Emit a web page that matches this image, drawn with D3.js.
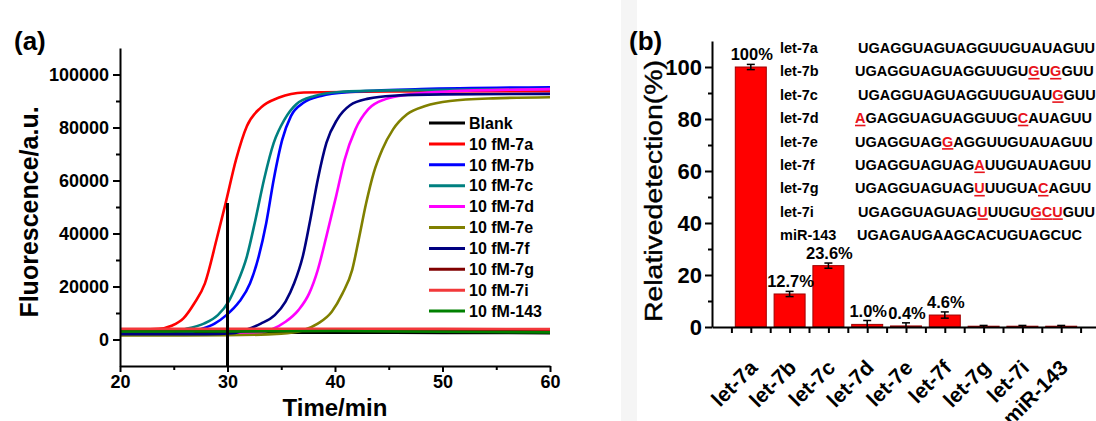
<!DOCTYPE html>
<html>
<head>
<meta charset="utf-8">
<script src="https://cdn.jsdelivr.net/npm/d3@7/dist/d3.min.js"></script>
<style>
body { margin: 0; background: #fff; }
svg text { font-family: "Liberation Sans", Arial, sans-serif; }
</style>
</head>
<body>
<svg id="fig" width="1096" height="421"></svg>
<script>
// ---- panel (a) data: fluorescence curves, [time(min), fluorescence(a.u.)]
var seriesNames = ["Blank", "10 fM-7a", "10 fM-7b", "10 fM-7c", "10 fM-7d", "10 fM-7e", "10 fM-7f", "10 fM-7g", "10 fM-7i", "10 fM-143"];
var seriesColors = ["#000000", "#ff0000", "#0000ff", "#008080", "#ff00ff", "#808000", "#000080", "#800000", "#f2383a", "#008000"];

var curveBlank = [[20,2400],[30,2500],[40,2600],[50,2500],[60,2400]];
var curve7a = [[20,3800],[22,3800],[23.6,4000],[24.8,5200],[25.9,8000],[26.9,13600],[27.9,21200],[29.0,38000],[29.8,51000],[30.8,68000],[31.8,80500],[33.1,87500],[34.8,91300],[37.1,93200],[45,93600],[60,93700]];
var curve7b = [[20,2000],[24,2000],[26,2300],[27.4,3800],[28.8,6000],[29.9,9200],[31.1,14300],[32.1,21200],[32.9,31300],[33.6,43900],[34.3,60400],[35.1,75500],[35.9,84300],[37.1,89400],[38.7,91900],[41.4,93400],[48,94500],[60,95200]];
var curve7c = [[20,3000],[24,3000],[26.1,4000],[27.8,6000],[29.1,9200],[30.1,14300],[30.9,21200],[31.8,31300],[32.6,45200],[33.4,60400],[34.3,74200],[35.3,83000],[36.4,88800],[38.1,91900],[40.4,93400],[45,94000],[60,94500]];
var curve7d = [[20,2000],[30,2000],[32.5,2300],[34.1,3800],[35.4,6700],[36.6,11100],[37.6,17400],[38.4,26300],[39.2,38900],[40.1,54000],[40.9,67900],[41.9,79300],[43.1,86900],[44.7,90700],[47.0,92500],[50.4,93600],[60,94500]];
var curve7e = [[20,1500],[30,1600],[35,2200],[36.9,3300],[38.4,6000],[39.7,10500],[40.7,17400],[41.6,26300],[42.2,37600],[42.9,51500],[43.6,62900],[44.4,71700],[45.4,79300],[46.7,85000],[48.4,88100],[50.7,90000],[54.7,91000],[60,91400]];
var curve7f = [[20,2000],[28,2000],[30.5,2400],[31.8,3800],[33.1,6000],[34.4,9200],[35.4,14300],[36.2,21200],[37.0,31300],[37.7,45200],[38.4,60400],[39.2,74200],[40.2,83000],[41.4,88400],[43.1,90900],[45.4,92000],[50,92500],[60,92700]];
var curve7g = [[20,3200],[30,3200],[40,3300],[50,3200],[60,3100]];
var curve7i = [[20,4000],[30,4000],[40,4000],[50,4000],[60,3900]];
var curve143 = [[20,3000],[30,3000],[40,3200],[50,2900],[60,2700]];
var curveData = [curveBlank, curve7a, curve7b, curve7c, curve7d, curve7e, curve7f, curve7g, curve7i, curve143];

var markTime = 30;          // vertical marker
var markTop = 51500;

var xTicksA = [20, 30, 40, 50, 60];
var xMinorA = [25, 35, 45, 55];
var yTicksA = [0, 20000, 40000, 60000, 80000, 100000];
var yMinorA = [10000, 30000, 50000, 70000, 90000];

// ---- panel (b) data: relative detection
var categories = ["let-7a", "let-7b", "let-7c", "let-7d", "let-7e", "let-7f", "let-7g", "let-7i", "miR-143"];
var detection = [100, 12.7, 23.6, 1.0, 0.4, 4.6, 0.3, 0.3, 0.3];
var detectionErr = [1.0, 1.0, 1.0, 1.5, 1.2, 1.2, 0.3, 0.3, 0.3];
var barLabels = ["100%", "12.7%", "23.6%", "1.0%", "0.4%", "4.6%", "", "", ""];
var yTicksB = [0, 20, 40, 60, 80, 100];
var yMinorB = [10, 30, 50, 70, 90];

var seqNames = ["let-7a", "let-7b", "let-7c", "let-7d", "let-7e", "let-7f", "let-7g", "let-7i", "miR-143"];
var seqs = ["UGAGGUAGUAGGUUGUAUAGUU", "UGAGGUAGUAGGUUGUGUGGUU", "UGAGGUAGUAGGUUGUAUGGUU", "AGAGGUAGUAGGUUGCAUAGUU",
            "UGAGGUAGGAGGUUGUAUAGUU", "UGAGGUAGUAGAUUGUAUAGUU", "UGAGGUAGUAGUUUGUACAGUU", "UGAGGUAGUAGUUUGUGCUGUU",
            "UGAGAUGAAGCACUGUAGCUC"];
var mismatches = [[], [16, 18], [18], [0, 15], [8], [11], [11, 17], [11, 16, 17, 18], []];
var seqIndent = [3, 0, 3, 0, 0, 0, 0, 3, 2];

var svg = d3.select("#fig");
var red = "#e8141c";

// ================= panel (a) =================
var xA = d3.scaleLinear().domain([20, 60]).range([120, 550]);
var yA = d3.scaleLinear().domain([-10000, 110000]).range([366, 48]);

var gA = svg.append("g");

var line = d3.line()
    .x(function(d) { return xA(d[0]); })
    .y(function(d) { return yA(d[1]); })
    .curve(d3.curveMonotoneX);

curveData.forEach(function(c, i) {
    gA.append("path")
        .datum(c)
        .attr("d", line)
        .attr("fill", "none")
        .attr("stroke", seriesColors[i])
        .attr("stroke-width", 2.6);
});

gA.append("line")
    .attr("x1", xA(markTime)).attr("x2", xA(markTime))
    .attr("y1", yA(-10000)).attr("y2", yA(markTop))
    .attr("stroke", "#000").attr("stroke-width", 3);

function styleAxis(g, size) {
    g.selectAll("path.domain").attr("stroke", "#000").attr("stroke-width", 2);
    g.selectAll(".tick line").attr("stroke", "#000").attr("stroke-width", 2);
    g.selectAll(".tick text").attr("fill", "#000")
        .style("font-size", size + "px").style("font-weight", "bold")
        .style("font-family", '"Liberation Sans", Arial, sans-serif');
}

var xAxisA = gA.append("g")
    .attr("transform", "translate(0," + yA(-10000) + ")")
    .call(d3.axisBottom(xA).tickValues(xTicksA).tickSize(6).tickSizeOuter(0).tickPadding(3));
styleAxis(xAxisA, 18);
gA.append("g")
    .attr("transform", "translate(0," + yA(-10000) + ")")
    .call(d3.axisBottom(xA).tickValues(xMinorA).tickSize(4).tickFormat(""))
    .call(function(g) { g.select(".domain").remove(); styleAxis(g, 18); });

var yAxisA = gA.append("g")
    .attr("transform", "translate(" + xA(20) + ",0)")
    .call(d3.axisLeft(yA).tickValues(yTicksA).tickSize(7).tickSizeOuter(0).tickPadding(4).tickFormat(d3.format("d")));
styleAxis(yAxisA, 18);
gA.append("g")
    .attr("transform", "translate(" + xA(20) + ",0)")
    .call(d3.axisLeft(yA).tickValues(yMinorA).tickSize(4).tickFormat(""))
    .call(function(g) { g.select(".domain").remove(); styleAxis(g, 18); });

gA.append("text")
    .attr("x", (xA(20) + xA(60)) / 2).attr("y", 416)
    .attr("text-anchor", "middle")
    .style("font-size", "24px").style("font-weight", "bold")
    .text("Time/min");

gA.append("text")
    .attr("transform", "translate(38," + ((yA(-10000) + yA(110000)) / 2 + 5) + ") rotate(-90)")
    .attr("text-anchor", "middle")
    .style("font-size", "25px").style("font-weight", "bold")
    .text("Fluorescence/a.u.");

gA.append("text")
    .attr("x", 14).attr("y", 50)
    .style("font-size", "26px").style("font-weight", "bold")
    .text("(a)");

// legend
var legend = gA.append("g");
seriesNames.forEach(function(name, i) {
    var y = 123 + 20.9 * i;
    legend.append("line")
        .attr("x1", 429).attr("x2", 465).attr("y1", y).attr("y2", y)
        .attr("stroke", seriesColors[i]).attr("stroke-width", 3);
    legend.append("text")
        .attr("x", 469).attr("y", y).attr("dy", "0.36em")
        .style("font-size", "16px").style("font-weight", "bold")
        .text(name);
});

// ================= panel (b) =================
svg.append("rect").attr("x", 621).attr("y", 0).attr("width", 16).attr("height", 421).attr("fill", "#f5f5f5");

var xB = d3.scaleLinear().domain([0, 10]).range([712, 1100]);
var yB = d3.scaleLinear().domain([0, 110]).range([327, 41]);
var barW = 31;

var gB = svg.append("g");

gB.selectAll("rect.bar")
    .data(detection)
    .enter().append("rect")
    .attr("class", "bar")
    .attr("x", function(d, i) { return xB(i + 1) - barW / 2; })
    .attr("y", function(d) { return yB(d); })
    .attr("width", barW)
    .attr("height", function(d) { return yB(0) - yB(d); })
    .attr("fill", "#ff0000")
    .attr("stroke", "#a00000")
    .attr("stroke-width", 1);

// error bars
detection.forEach(function(d, i) {
    var cx = xB(i + 1), lo = yB(Math.max(0, d - detectionErr[i])), hi = yB(d + detectionErr[i]);
    gB.append("line").attr("x1", cx).attr("x2", cx).attr("y1", lo).attr("y2", hi)
        .attr("stroke", "#000").attr("stroke-width", 1.5);
    gB.append("line").attr("x1", cx - 4).attr("x2", cx + 4).attr("y1", hi).attr("y2", hi)
        .attr("stroke", "#000").attr("stroke-width", 1.5);
    if (d - detectionErr[i] > 0) {
        gB.append("line").attr("x1", cx - 4).attr("x2", cx + 4).attr("y1", lo).attr("y2", lo)
            .attr("stroke", "#000").attr("stroke-width", 1.5);
    }
    if (barLabels[i]) {
        gB.append("text")
            .attr("x", cx + 1).attr("y", hi - 4)
            .attr("text-anchor", "middle")
            .style("font-size", "16.5px").style("font-weight", "bold")
            .text(barLabels[i]);
    }
});

var catTicks = d3.range(0.5, 10.01, 0.5);
var xAxisB = gB.append("g")
    .attr("transform", "translate(0," + yB(0) + ")")
    .call(d3.axisBottom(xB).tickValues(catTicks).tickSize(6).tickSizeOuter(0).tickFormat(""));
styleAxis(xAxisB, 17);

categories.forEach(function(c, i) {
    gB.append("text")
        .attr("transform", "translate(" + (xB(i + 1) + 8) + ",369) rotate(-45)")
        .attr("text-anchor", "end")
        .style("font-size", "21px").style("font-weight", "bold")
        .text(c);
});

var yAxisB = gB.append("g")
    .attr("transform", "translate(" + xB(0) + ",0)")
    .call(d3.axisLeft(yB).tickValues(yTicksB).tickSize(7).tickSizeOuter(0).tickPadding(3));
styleAxis(yAxisB, 22);
gB.append("g")
    .attr("transform", "translate(" + xB(0) + ",0)")
    .call(d3.axisLeft(yB).tickValues(yMinorB).tickSize(4).tickFormat(""))
    .call(function(g) { g.select(".domain").remove(); styleAxis(g, 22); });

gB.append("text")
    .attr("transform", "translate(662,191) rotate(-90)")
    .attr("text-anchor", "middle")
    .attr("textLength", 262)
    .attr("lengthAdjust", "spacingAndGlyphs")
    .style("font-size", "23px")
    .style("stroke", "#000").style("stroke-width", 0.4)
    .text("Relativedetection(%)");

gB.append("text")
    .attr("x", 629).attr("y", 50)
    .style("font-size", "26px").style("font-weight", "bold")
    .text("(b)");

// sequence table
var seqG = gB.append("g");
seqNames.forEach(function(name, i) {
    var y = 53 + 23.4 * i;
    seqG.append("text").attr("x", 780).attr("y", y)
        .style("font-size", "14.5px").style("font-weight", "bold")
        .text(name);
    var t = seqG.append("text").attr("x", 855 + seqIndent[i]).attr("y", y)
        .style("font-size", "14.5px").style("font-weight", "bold");
    seqs[i].split("").forEach(function(ch, k) {
        t.append("tspan")
            .attr("fill", mismatches[i].indexOf(k) >= 0 ? red : "#000")
            .text(ch);
    });
    var node = t.node();
    mismatches[i].forEach(function(k) {
        var a = node.getStartPositionOfChar(k).x, b = node.getEndPositionOfChar(k).x;
        seqG.append("rect").attr("x", a).attr("y", y + 1.5).attr("width", b - a).attr("height", 1.6).attr("fill", red);
    });
});
</script>
</body>
</html>
